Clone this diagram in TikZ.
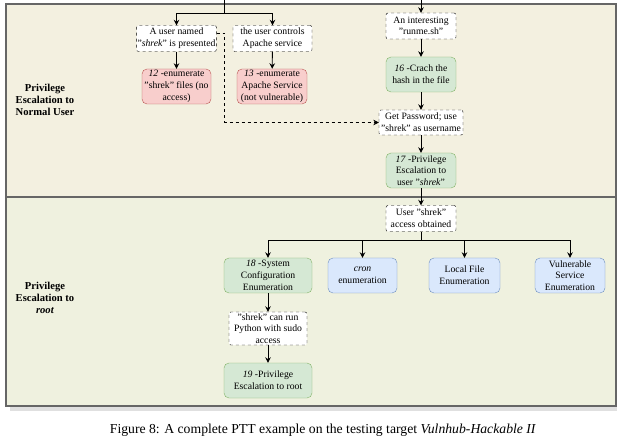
\documentclass[tikz,border=0pt]{standalone}
\usepackage{fontspec}
\setmainfont{Liberation Serif}
\usetikzlibrary{arrows.meta,positioning}
\definecolor{laneA}{HTML}{F3F0E0}
\definecolor{laneB}{HTML}{EFF1DF}
\definecolor{laneline}{HTML}{666666}
\definecolor{redfill}{HTML}{F8CECC}
\definecolor{redline}{HTML}{B85450}
\definecolor{greenfill}{HTML}{D5E8D4}
\definecolor{greenline}{HTML}{82B366}
\definecolor{bluefill}{HTML}{DAE8FC}
\definecolor{blueline}{HTML}{6C8EBF}

\begin{document}
\begin{tikzpicture}[x=1pt,y=-1pt,
      every node/.style={align=center,font=\fontsize{9.7}{11.7}\selectfont,inner sep=1pt},
      lane/.style={draw=laneline,line width=1.5pt},
      lanelabel/.style={font=\fontsize{10.6}{12.3}\selectfont\bfseries},
      obs/.style={draw,dashed,fill=white,rounded corners=2pt,minimum height=26pt},
      fail/.style={draw=redline,fill=redfill,rounded corners=5pt,minimum height=35pt},
      done/.style={draw=greenline,fill=greenfill,rounded corners=5pt,minimum height=35pt},
      todo/.style={draw=blueline,fill=bluefill,rounded corners=5pt,minimum height=35pt},
      arr/.style={-{Stealth[length=5.5pt,width=5.5pt]},line width=0.9pt}]
    \useasboundingbox (0,0) rectangle (618,443);
    \fill[black!12] (10,407) rectangle (617,411);
    \draw[lane,fill=laneA] (6,4) rectangle (616,197);
    \draw[lane,fill=laneB] (6,197) rectangle (616,406);
    \node[lanelabel] (laneA) at (45,100) {Privilege\\Escalation to\\Normal User};
    \node[lanelabel] (laneB) at (45,298) {Privilege\\Escalation to\\\textit{root}};

    \node[obs,minimum width=79pt] (named) at (176.5,38.5) {A user named\\"\textit{shrek}" is presented};
    \node[obs,minimum width=79pt] (ctrl) at (272.5,38.5) {the user controls\\Apache service};
    \node[fail,minimum width=69pt] (t12) at (176.5,86.5) {\textit{12} -enumerate\\"shrek" files (no\\access)};
    \node[fail,minimum width=70pt] (t13) at (272,86.5) {\textit{13} -enumerate\\Apache Service\\(not vulnerable)};
    \node[obs,minimum width=70pt] (runme) at (421,26) {An interesting\\"runme.sh"};
    \node[done,minimum width=70pt] (t16) at (421,74.5) {\textit{16} -Crach the\\hash in the file};
    \node[obs,minimum width=84pt,minimum height=25pt] (pwd) at (421,122.5) {Get Password; use\\"shrek" as username};
    \node[done,minimum width=70pt] (t17) at (421,170.5) {\textit{17} -Privilege\\Escalation to\\user "\textit{shrek}"};

    \node[obs,minimum width=70pt] (access) at (421,218.5) {User "shrek"\\access obtained};
    \node[done,minimum width=88pt] (t18) at (268,275.5) {\textit{18} -System\\Configuration\\Enumeration};
    \node[todo,minimum width=69pt] (cron) at (362.5,275.5) {\textit{cron}\\enumeration};
    \node[todo,minimum width=71pt] (lfe) at (464.5,275.5) {Local File\\Enumeration};
    \node[todo,minimum width=70pt] (vse) at (570,275.5) {Vulnerable\\Service\\Enumeration};
    \node[obs,minimum width=78pt,minimum height=33pt] (sudo) at (268,328.5) {"shrek" can run\\Python with sudo\\access};
    \node[done,minimum width=88pt] (t19) at (268,380.5) {\textit{19} -Privilege\\Escalation to root};

    \coordinate (in1) at (224,0);
    \coordinate (in2) at (421,0);
    \draw[line width=0.9pt] (in1) -- ++(0,13) coordinate (fork1);
    \draw[arr] (fork1) -| (named);
    \draw[arr] (fork1) -| (ctrl);
    \draw[arr] (in2) -- (runme);
    \draw[arr] (named) -- (t12);
    \draw[arr] (ctrl) -- (t13);
    \draw[arr] (runme) -- (t16);
    \draw[arr] (t16) -- (pwd);
    \draw[arr] (pwd) -- (t17);
    \draw[arr] (t17) -- (access);
    \draw[arr,dashed,line width=0.6pt] ([yshift=5pt]named.east) -- ++(8,0) |- (pwd);
    \draw[line width=0.9pt] (access.south) -- ++(0,9) coordinate (fork2);
    \draw[arr] (fork2) -| (t18);
    \draw[arr] (fork2) -| (cron);
    \draw[arr] (fork2) -| (lfe);
    \draw[arr] (fork2) -| (vse);
    \draw[arr] (t18) -- (sudo);
    \draw[arr] (sudo) -- (t19);

    \node[font=\fontsize{13.7}{15}\selectfont] (caption) at (323,430) {Figure 8: A complete PTT example on the testing target \textit{Vulnhub-Hackable II}};
\end{tikzpicture}
\end{document}
